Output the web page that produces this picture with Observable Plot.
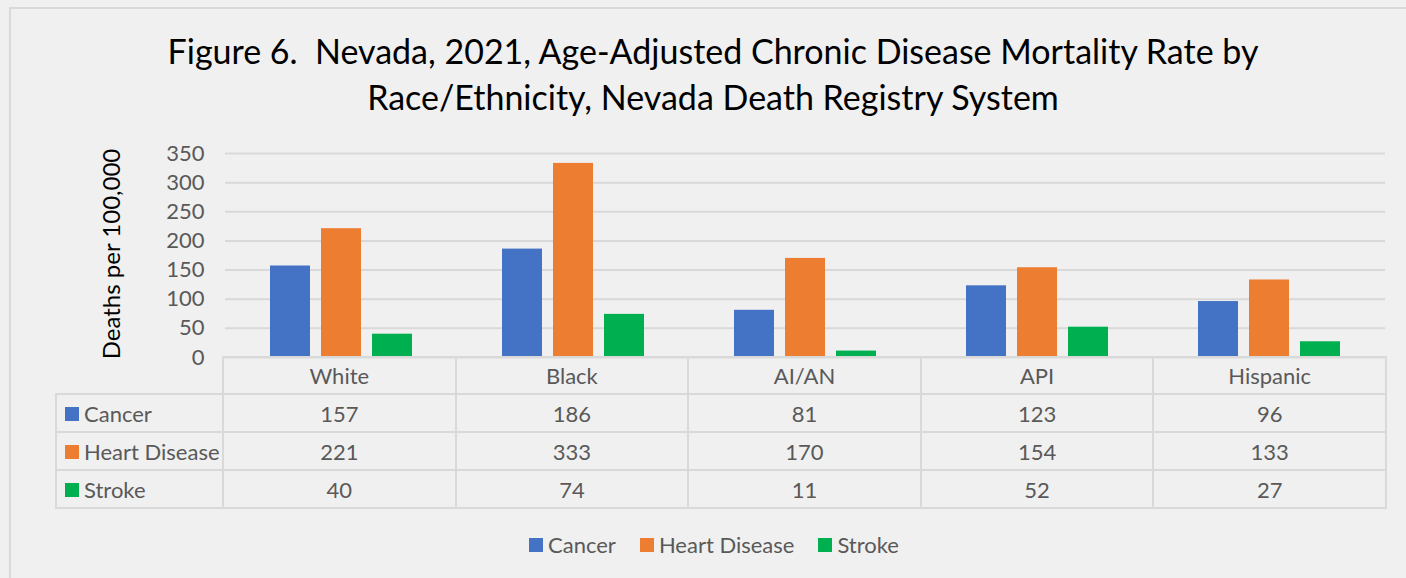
<!DOCTYPE html>
<html><head><meta charset="utf-8">
<script src="https://cdn.jsdelivr.net/npm/d3@7"></script>
<script src="https://cdn.jsdelivr.net/npm/@observablehq/plot@0.6"></script>
<style>
html,body{margin:0;padding:0}
body{background:#f0f0f0;font-family:Lato,"Open Sans",sans-serif;width:1406px;height:578px;overflow:hidden;position:relative}
#frame{position:absolute;left:9px;top:7px;width:1420px;height:600px;border-left:2px solid #d9d9d9;border-top:2px solid #d9d9d9;box-sizing:border-box}
#title{position:absolute;left:10px;top:28px;width:1406px;text-align:center;font-size:34px;line-height:46px;color:#000}
#chart{position:absolute;left:0;top:140px}
#ylabel{position:absolute;left:110px;top:254px;transform:translate(-50%,-50%) rotate(-90deg);font-size:24px;color:#000;white-space:nowrap}
#tbl{position:absolute;left:55px;top:356px;border-collapse:collapse;table-layout:fixed;color:#595959;font-size:22px}
#tbl td,#tbl th{border:2px solid #d9d9d9;padding:0;font-weight:normal;text-align:center;vertical-align:middle;white-space:nowrap}
#tbl th.blank{border-top:none;border-left:none}
#tbl tr.hdr{height:37px}
#tbl tr.row{height:38px}
#tbl td.lab{text-align:left;padding-left:8px}
.sw{display:inline-block;width:14px;height:14px;margin-right:5px;vertical-align:middle;position:relative;top:-2px}
#legend{position:absolute;left:0;top:530px;width:1406px;display:flex;justify-content:center;font-size:22px;color:#595959;line-height:30px;padding-left:22px;box-sizing:border-box}
#legend span.item{margin:0 12px}
</style></head><body>
<div id="frame"></div>
<div id="title">Figure 6.&nbsp; Nevada, 2021, Age-Adjusted Chronic Disease Mortality Rate by<br>Race/Ethnicity, Nevada Death Registry System</div>
<div id="chart"></div>
<div id="ylabel">Deaths per 100,000</div>
<table id="tbl"></table>
<div id="legend"></div>
<script>
const races = ["White", "Black", "AI/AN", "API", "Hispanic"];
const diseases = ["Cancer", "Heart Disease", "Stroke"];
const cancer = [157, 186, 81, 123, 96];
const heartDisease = [221, 333, 170, 154, 133];
const stroke = [40, 74, 11, 52, 27];
const colors = ["#4472c4", "#ed7d31", "#00b050"];
const yTicks = [0, 50, 100, 150, 200, 250, 300, 350];

const series = [cancer, heartDisease, stroke];
const rows = [];
races.forEach((r, i) => diseases.forEach((d, j) => rows.push({race: r, disease: d, value: series[j][i]})));

const chart = Plot.plot({
  width: 1406,
  height: 230,
  marginLeft: 224,
  marginRight: 20,
  marginTop: 13,
  marginBottom: 13,
  style: {background: "transparent", fontFamily: "Lato, sans-serif", fontSize: "22px", color: "#595959", overflow: "visible"},
  facet: {data: rows, x: "race"},
  fx: {domain: races, padding: 0, axis: null, label: null},
  x: {domain: diseases, paddingInner: 0.21, paddingOuter: 0.84, axis: null},
  y: {domain: [0, 350], ticks: yTicks, tickSize: 0, tickPadding: 21, label: null, tickFormat: d => String(d)},
  color: {domain: diseases, range: colors},
  marks: [
    Plot.ruleY(yTicks, {stroke: "#d9d9d9", strokeWidth: 2}),
    Plot.barY(rows, {x: "disease", y: "value", fill: "disease"})
  ]
});
document.getElementById("chart").appendChild(chart);

// data table
const tbl = document.getElementById("tbl");
const cg = document.createElement("colgroup");
const c0 = document.createElement("col"); c0.style.width = "167px"; cg.appendChild(c0);
races.forEach(() => { const c = document.createElement("col"); c.style.width = "232.6px"; cg.appendChild(c); });
tbl.appendChild(cg);
const hr = document.createElement("tr"); hr.className = "hdr";
const blank = document.createElement("th"); blank.className = "blank"; hr.appendChild(blank);
races.forEach(r => { const th = document.createElement("th"); th.textContent = r; hr.appendChild(th); });
tbl.appendChild(hr);
diseases.forEach((d, j) => {
  const tr = document.createElement("tr"); tr.className = "row";
  const lab = document.createElement("td"); lab.className = "lab";
  lab.innerHTML = `<span class="sw" style="background:${colors[j]}"></span>${d}`;
  tr.appendChild(lab);
  series[j].forEach(v => { const td = document.createElement("td"); td.textContent = v; tr.appendChild(td); });
  tbl.appendChild(tr);
});

// legend
const lg = document.getElementById("legend");
diseases.forEach((d, j) => {
  const s = document.createElement("span"); s.className = "item";
  s.innerHTML = `<span class="sw" style="background:${colors[j]}"></span>${d}`;
  lg.appendChild(s);
});
</script>
</body></html>
